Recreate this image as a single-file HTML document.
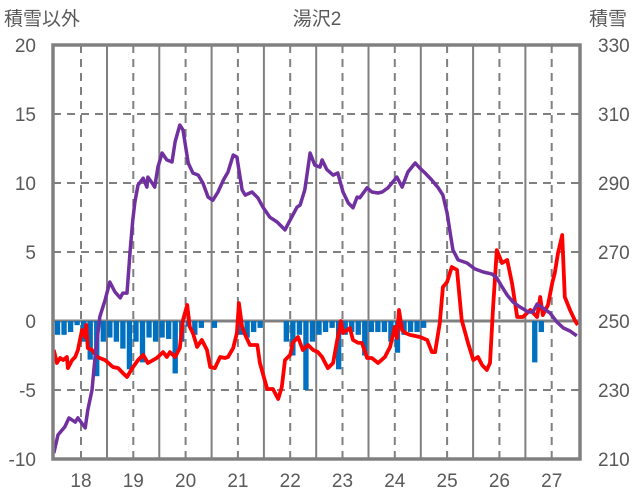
<!DOCTYPE html>
<html><head><meta charset="utf-8"><style>
body{margin:0;background:#fff}
svg{display:block;font-family:"Liberation Sans","Noto Sans CJK JP",sans-serif}
</style></head><body>
<svg id="chart" width="636" height="501" viewBox="0 0 636 501">
<text x="4" y="25" font-size="19" fill="#595959">積雪以外</text>
<text x="317" y="25" font-size="19" fill="#595959" text-anchor="middle">湯沢2</text>
<text x="589" y="25" font-size="19" fill="#595959">積雪</text>
<g id="grid"></g><g id="bars"></g><g id="lines"></g><g id="ticks"></g>
</svg>
<script>
const leftTicks=[20,15,10,5,0,-5,-10];
const rightTicks=[330,310,290,270,250,230,210];
const dayLabels=[18,19,20,21,22,23,24,25,26,27];
const snowDays=[17.48,17.56,17.69,17.77,17.89,17.94,18.08,18.13,18.21,18.27,18.36,18.46,18.55,18.65,18.75,18.80,18.88,18.94,18.99,19.03,19.09,19.19,19.26,19.28,19.36,19.41,19.47,19.55,19.64,19.74,19.80,19.89,19.95,20.05,20.14,20.24,20.33,20.43,20.52,20.62,20.72,20.81,20.91,20.98,21.08,21.14,21.27,21.38,21.48,21.61,21.75,21.90,22.00,22.13,22.19,22.28,22.38,22.47,22.57,22.61,22.70,22.82,22.91,23.01,23.11,23.20,23.28,23.33,23.47,23.56,23.68,23.76,23.87,24.04,24.14,24.25,24.39,24.48,24.58,24.71,24.83,24.92,25.00,25.06,25.11,25.21,25.38,25.53,25.69,25.86,25.95,26.05,26.15,26.26,26.39,26.55,26.64,26.72,26.83,26.97,27.10,27.22,27.35,27.48];
const snowDepth=[211.7,217,219.3,221.9,220.7,221.9,219,224.2,230,239.6,251.2,256.1,261.3,258.4,256.7,258.1,258.1,270.6,279.3,284.5,289.4,291.4,288.8,291.7,290,288.8,294.6,298.7,296.7,296.1,301.9,306.8,305.4,295.8,292.9,292.3,290,285.9,285,287.4,290.8,293.2,298.1,297.5,288,286.5,287.4,285.7,283,280.1,278.7,276.4,279.3,283,283.6,288,298.7,295.2,294.6,296.7,293.9,292.3,292.9,287.4,284.2,282.8,285.9,285.7,288.6,287.4,287.1,287.4,288.6,291.7,288.8,293.2,295.8,294.3,292.9,290.8,288.6,286.5,281.3,275.5,270.6,267.7,266.8,265.1,264.2,263.6,262.5,259.9,257.5,255.5,254.1,252.6,252.6,254.9,253.8,252.3,249.7,248,247.1,245.7];
const redDays=[17.48,17.54,17.60,17.66,17.73,17.75,17.83,17.89,17.94,18.02,18.08,18.10,18.13,18.21,18.31,18.46,18.61,18.71,18.80,18.88,18.98,19.09,19.19,19.28,19.45,19.57,19.64,19.70,19.80,19.89,19.95,20.03,20.08,20.14,20.22,20.31,20.41,20.47,20.56,20.66,20.75,20.81,20.91,20.98,21.02,21.08,21.14,21.23,21.37,21.42,21.56,21.67,21.77,21.84,21.90,22.00,22.05,22.15,22.24,22.34,22.44,22.53,22.61,22.67,22.72,22.82,22.89,22.97,23.01,23.14,23.20,23.30,23.37,23.47,23.56,23.68,23.81,23.91,24.00,24.04,24.08,24.14,24.20,24.29,24.48,24.62,24.71,24.77,24.86,24.92,25.00,25.09,25.19,25.28,25.40,25.50,25.59,25.67,25.76,25.82,25.88,25.95,26.05,26.15,26.24,26.34,26.45,26.59,26.72,26.78,26.83,26.93,27.01,27.06,27.12,27.20,27.25,27.35,27.45,27.50];
const redValues=[-2.1,-3.04,-2.68,-2.83,-2.61,-3.41,-2.83,-2.61,-2.1,-0.65,-1.16,-0.29,-1.96,-2.1,-2.61,-2.83,-3.33,-3.41,-3.77,-4.06,-3.41,-2.83,-2.46,-3.04,-2.68,-2.25,-2.61,-2.25,-2.61,-1.96,0.07,1.16,-0.43,-0.87,-1.88,-1.38,-2.1,-3.33,-3.41,-2.61,-2.68,-2.61,-1.96,-0.87,1.3,-0.43,-1.01,-1.74,-1.74,-3.04,-4.93,-4.93,-5.65,-4.78,-2.83,-2.46,-1.59,-1.16,-2.1,-1.74,-2.1,-2.25,-2.61,-3.04,-3.41,-3.04,-1.59,0,-0.87,-0.51,-1.38,-1.59,-1.59,-2.68,-2.68,-3.04,-2.61,-1.88,-0.43,-1.23,0.8,-0.65,-0.87,-1.01,-1.16,-1.38,-2.25,-2.25,-0.14,2.46,2.83,3.91,3.7,0.07,-1.59,-2.83,-2.61,-3.19,-3.55,-3.04,1.01,5.14,4.2,4.42,2.75,0.29,0.29,0.8,0.29,1.74,0.43,1.16,2.75,3.48,4.93,6.23,1.74,0.8,0,-0.29];
const barStarts=[17.5,17.625,17.75,17.875,18.0,18.125,18.25,18.375,18.5,18.625,18.75,18.875,19.0,19.125,19.25,19.375,19.5,19.625,19.75,19.875,20.0,20.125,20.25,20.5,21.0,21.125,21.25,21.375,21.875,22.0,22.125,22.25,22.375,22.5,22.625,22.75,22.875,23.0,23.125,23.25,23.375,23.5,23.625,23.75,23.875,24.0,24.125,24.25,24.375,24.5,26.625,26.75];
const barValues=[-1,-1,-0.8,-0.3,-1.5,-2.8,-4,-1.5,-1.2,-1.5,-2,-3.5,-1.5,-3,-1.2,-1.5,-1.2,-1.3,-3.8,-1.5,-0.4,-1,-0.5,-0.5,-1,-1.2,-0.8,-0.5,-1.5,-2.5,-1,-5,-1.5,-1,-0.8,-0.5,-3.5,-1,-0.8,-1,-2.5,-0.8,-0.8,-0.8,-1.5,-2.3,-1,-0.8,-0.8,-0.5,-3,-0.8];

const L=53,R=580,T=45,B=459;
const xS=d=>81+(d-18)*52.3;
const yL=v=>T+(20-v)*(B-T)/30;
const yR=v=>T+(330-v)*(B-T)/120;
const NS='http://www.w3.org/2000/svg';
function mk(tag,attrs,parent){const e=document.createElementNS(NS,tag);for(const k in attrs)e.setAttribute(k,attrs[k]);parent.appendChild(e);return e;}
const grid=document.getElementById('grid'),bars=document.getElementById('bars'),lines=document.getElementById('lines'),ticks=document.getElementById('ticks');
// horizontal gridlines
leftTicks.forEach(v=>{if(v===20||v===-10)return;const y=yL(v);
 const g=mk('line',{x1:L,x2:R,y1:y,y2:y,stroke:'#808080','stroke-width':v===0?3:2,'stroke-dasharray':v===0?'none':'8,6'},grid);
 
 });
// vertical gridlines
for(let k=0;k<9;k++){const x=107+52.3*k;const g=mk('line',{x1:x,x2:x,y1:T,y2:B,stroke:'#808080','stroke-width':2},grid);
 
 }
dayLabels.forEach(d=>{const x=xS(d);const g=mk('line',{x1:x,x2:x,y1:T,y2:B,stroke:'#808080','stroke-width':2,'stroke-dasharray':'8,6'},grid);
 
 });
// bars
barStarts.forEach((d,i)=>{const x=xS(d),w=52.3*0.125-1.2;const y0=yL(0),y1=yL(barValues[i]);
 const r=mk('rect',{x:x,y:Math.min(y0,y1),width:w,height:Math.abs(y1-y0),fill:'#0070C0'},bars);
 
 });
// red line
const rp=mk('polyline',{points:redDays.map((d,i)=>xS(d).toFixed(1)+','+yL(redValues[i]).toFixed(1)).join(' '),fill:'none',stroke:'#FF0000','stroke-width':3.8,'stroke-linejoin':'round'},lines);


const pp=mk('polyline',{points:snowDays.map((d,i)=>xS(d).toFixed(1)+','+yR(snowDepth[i]).toFixed(1)).join(' '),fill:'none',stroke:'#7030A0','stroke-width':3.5,'stroke-linejoin':'round'},lines);


// frame
const fr=mk('rect',{x:L,y:T,width:R-L,height:B-T,fill:'none',stroke:'#808080','stroke-width':3.5},ticks);


leftTicks.forEach(v=>{const t=mk('text',{x:36,y:yL(v)+7,'font-size':19,fill:'#595959','text-anchor':'end'},ticks);t.textContent=v;
 
 });
rightTicks.forEach(v=>{const t=mk('text',{x:598,y:yR(v)+7,'font-size':19,fill:'#595959'},ticks);t.textContent=v;
 
 });
dayLabels.forEach(d=>{const t=mk('text',{x:xS(d),y:487,'font-size':19,fill:'#595959','text-anchor':'middle'},ticks);t.textContent=d;
 
 });
</script>
</body></html>
